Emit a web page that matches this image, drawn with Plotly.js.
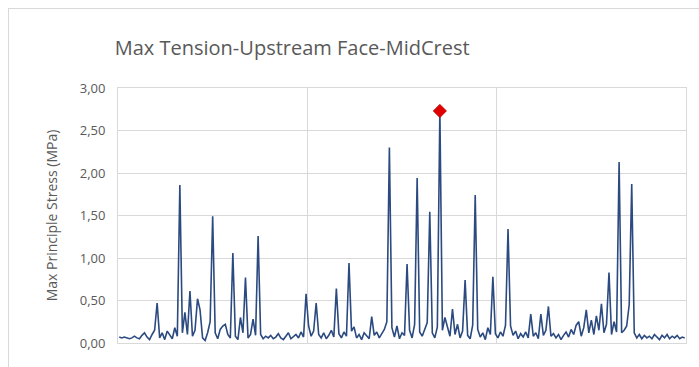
<!DOCTYPE html>
<html><head><meta charset="utf-8">
<script src="https://cdn.plot.ly/plotly-3.0.1.min.js"></script>
<style>
html,body{margin:0;padding:0;background:#fff;}
#wrap{position:relative;width:699px;height:367px;overflow:hidden;}
#chart{position:absolute;left:0;top:0;width:699px;height:367px;}
#frame{position:absolute;left:8px;top:8px;width:700px;height:380px;border:1px solid #d9d9d9;pointer-events:none;}
</style></head>
<body><div id="wrap"><div id="chart"></div><div id="frame"></div></div>
<script>
const chartTitle = "Max Tension-Upstream Face-MidCrest";
const yTitle = "Max Principle Stress (MPa)";
const yTickValues = [0, 0.5, 1, 1.5, 2, 2.5, 3];
const stress = [
0.07,0.06,0.07,0.06,0.05,0.06,0.08,0.06,0.05,0.09,0.12,0.07,0.04,0.10,0.15,
0.47,0.06,0.12,0.04,0.14,0.09,0.05,0.18,0.08,1.86,0.12,0.36,0.10,0.61,0.08,
0.15,0.52,0.39,0.06,0.03,0.12,0.25,1.49,0.12,0.05,0.16,0.20,0.22,0.10,0.06,
1.06,0.08,0.04,0.30,0.12,0.77,0.06,0.10,0.28,0.09,1.26,0.10,0.05,0.08,0.06,
0.09,0.05,0.07,0.11,0.06,0.04,0.08,0.12,0.05,0.07,0.10,0.06,0.13,0.07,0.58,
0.20,0.08,0.14,0.47,0.10,0.06,0.12,0.05,0.09,0.15,0.07,0.64,0.11,0.06,0.13,
0.08,0.94,0.14,0.19,0.06,0.10,0.04,0.12,0.08,0.05,0.31,0.09,0.13,0.06,0.11,
0.16,0.25,2.30,0.18,0.07,0.20,0.05,0.12,0.09,0.93,0.15,0.06,0.22,1.94,0.13,
0.08,0.17,0.24,1.545,0.12,0.06,0.19,2.73,0.15,0.30,0.18,0.08,0.40,0.10,0.22,
0.06,0.14,0.74,0.09,0.05,0.21,1.74,0.16,0.07,0.12,0.04,0.18,0.10,0.78,0.11,
0.06,0.13,0.08,0.21,1.34,0.20,0.09,0.14,0.05,0.11,0.07,0.13,0.06,0.34,0.08,
0.12,0.05,0.34,0.09,0.15,0.43,0.08,0.11,0.06,0.10,0.04,0.09,0.13,0.07,0.16,
0.10,0.21,0.25,0.08,0.18,0.39,0.12,0.27,0.10,0.32,0.15,0.46,0.12,0.22,0.83,
0.10,0.25,0.13,2.13,0.12,0.15,0.20,0.45,1.87,0.12,0.06,0.10,0.05,0.09,0.06,
0.08,0.05,0.10,0.07,0.04,0.09,0.06,0.10,0.05,0.08,0.06,0.09,0.05,0.07,0.06
];
const steps = stress.map((v, i) => i);
let maxIdx = 0;
stress.forEach((v, i) => { if (v > stress[maxIdx]) maxIdx = i; });
const n = stress.length;
const gridVals = [n / 3 - 0.5, 2 * n / 3 - 0.5];

const traces = [
  {x: steps, y: stress, type: 'scatter', mode: 'lines',
   line: {color: '#2b4a80', width: 1.6}, hoverinfo: 'y'},
  {x: [steps[maxIdx]], y: [stress[maxIdx]], type: 'scatter', mode: 'markers',
   marker: {symbol: 'diamond', color: '#e00000', size: 10, line: {color: '#c00000', width: 1}}}
];
const txt = '#595959';
const layout = {
  width: 699, height: 367,
  margin: {l: 118, r: 13, t: 88, b: 24},
  paper_bgcolor: '#fff', plot_bgcolor: '#fff',
  showlegend: false,
  separators: ',.',
  font: {family: 'Open Sans, sans-serif', color: txt},
  title: {text: chartTitle, font: {size: 20, color: txt, family: 'Open Sans, sans-serif'},
          x: 0.418, xref: 'container', xanchor: 'center', y: 0.87, yref: 'container', yanchor: 'middle'},
  xaxis: {range: [-0.5, n - 0.5], tickmode: 'array', tickvals: gridVals, showticklabels: false,
          ticks: '', showgrid: true, gridcolor: '#d9d9d9', gridwidth: 1, zeroline: false,
          showline: true, linecolor: '#d9d9d9', linewidth: 1, mirror: true},
  yaxis: {range: [0, 3], tickmode: 'array', tickvals: yTickValues, tickformat: '.2f',
          tickfont: {size: 13, color: txt}, ticks: '', ticklabelstandoff: 9,
          showgrid: true, gridcolor: '#d9d9d9', gridwidth: 1, zeroline: false,
          showline: true, linecolor: '#d9d9d9', linewidth: 1, mirror: true,
          title: {text: yTitle, font: {size: 14, color: txt}, standoff: 18}}
};
Plotly.newPlot('chart', traces, layout, {staticPlot: true, displayModeBar: false});
</script></body></html>
